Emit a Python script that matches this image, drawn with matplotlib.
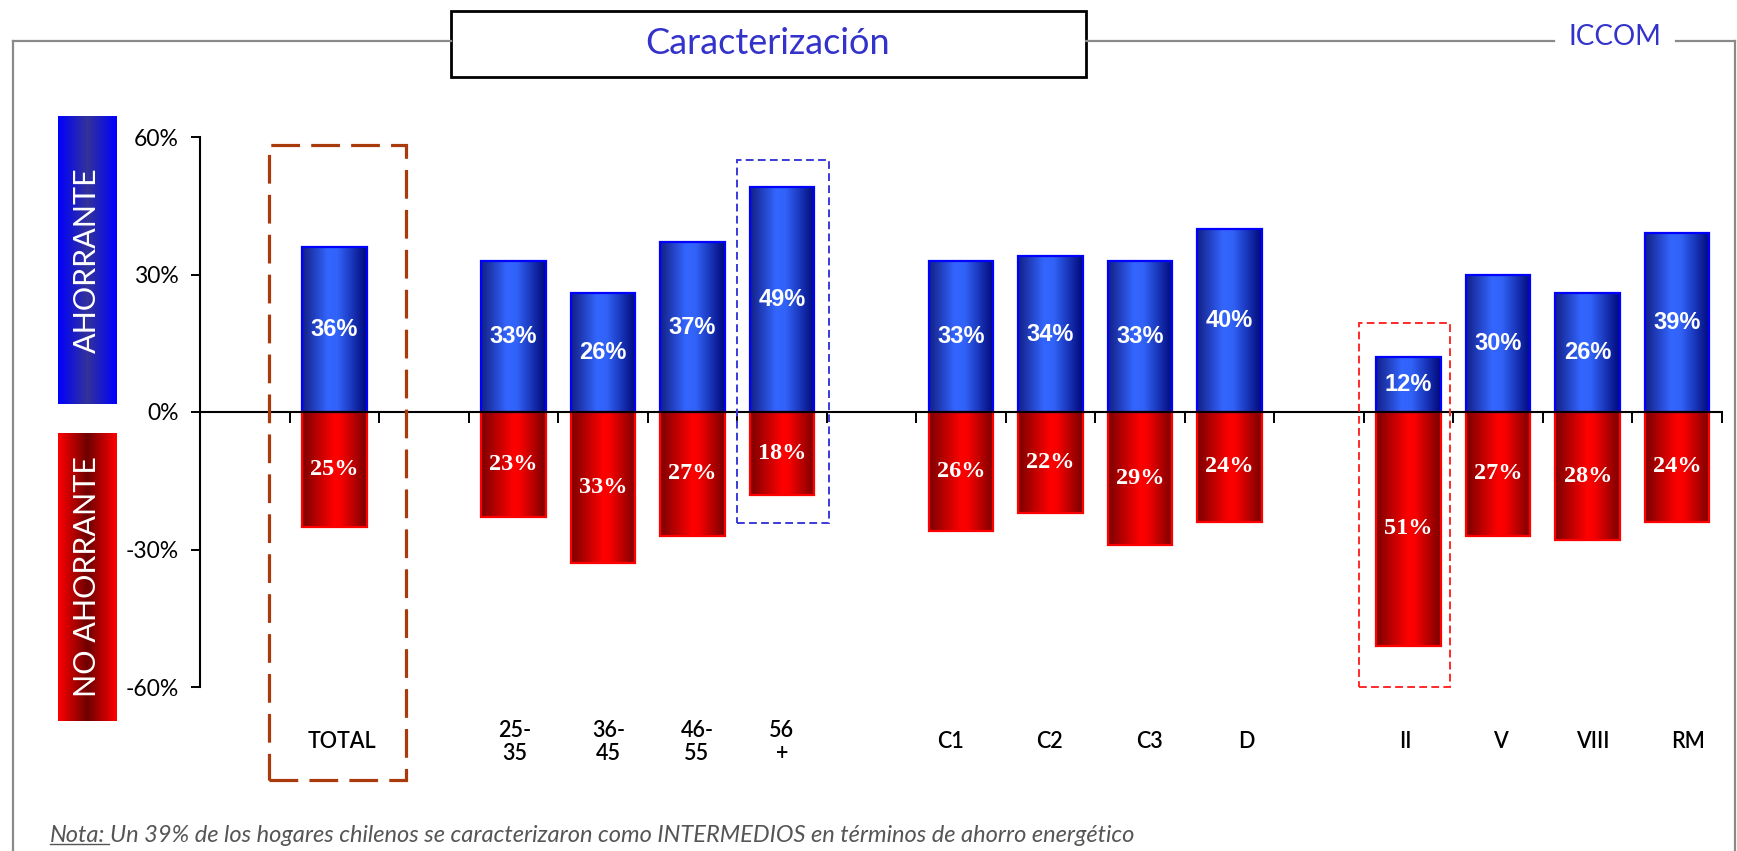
import numpy as np
import matplotlib.pyplot as plt
from matplotlib.colors import LinearSegmentedColormap
from matplotlib.patches import Rectangle
from matplotlib.lines import Line2D

# data
categories = ['TOTAL', '25-\n35', '36-\n45', '46-\n55', '56\n+',
              'C1', 'C2', 'C3', 'D', 'II', 'V', 'VIII', 'RM']
slots = [1, 3, 4, 5, 6, 8, 9, 10, 11, 13, 14, 15, 16]
ahorrante = [36, 33, 26, 37, 49, 33, 34, 33, 40, 12, 30, 26, 39]
no_ahorrante = [25, 23, 33, 27, 18, 26, 22, 29, 24, 51, 27, 28, 24]
yticks = [-60, -30, 0, 30, 60]

# category labels are not exactly under the bars in the original
label_shift = [0.09, 0.02, 0.06, 0.05, 0.0, -0.12, -0.01, 0.1, 0.19,
               -0.04, 0.03, 0.06, 0.12]

W, H = 1737, 851
plt.rcParams['font.family'] = ['Lato', 'DejaVu Sans']

fig = plt.figure(figsize=(W / 100, H / 100), dpi=100)

def fx(px):
    return px / W

def fy(py):
    return 1 - py / H

ax = fig.add_axes([fx(200), fy(687), fx(1522), 550 / H])
ax.set_xlim(0, 17)
ax.set_ylim(-60, 60)

blue_cmap = LinearSegmentedColormap.from_list(
    'b', [(0, '#121f86'), (0.4, '#3366ff'), (0.55, '#3163f8'), (1, '#00087a')])
red_cmap = LinearSegmentedColormap.from_list(
    'r', [(0, '#7c0000'), (0.5, '#ff0000'), (0.6, '#f80000'), (1, '#7a0000')])
grad = np.linspace(0, 1, 256).reshape(1, -1)

x = np.array(slots) + 0.5
bw = 0.72


def gradient_bars(vals, cmap, edge):
    bars = ax.bar(x, vals, width=bw, facecolor='none', edgecolor=edge,
                  linewidth=1.6, zorder=3)
    for b in bars:
        y0, y1 = sorted([b.get_y(), b.get_y() + b.get_height()])
        im = ax.imshow(grad, extent=[b.get_x(), b.get_x() + b.get_width(), y0, y1],
                       aspect='auto', cmap=cmap, zorder=2, interpolation='bicubic')
        im.set_clip_path(b)
    return bars


gradient_bars(ahorrante, blue_cmap, '#0000ff')
gradient_bars([-v for v in no_ahorrante], red_cmap, '#ff0000')
ax.set_xlim(0, 17)
ax.set_ylim(-60, 60)

for xi, v in zip(x, ahorrante):
    ax.text(xi, v / 2, f'{v}%', ha='center', va='center', color='white',
            fontsize=17, fontweight='bold', family='Liberation Sans', zorder=5)
for xi, v in zip(x, no_ahorrante):
    ax.text(xi, -v / 2, f'{v}%', ha='center', va='center', color='white',
            fontsize=17.5, fontweight='bold', family='Liberation Serif', zorder=5)

for xi, dx, c in zip(x, label_shift, categories):
    ax.text(xi + dx, -72, c, ha='center', va='center', fontsize=15.5, color='black',
            fontweight='semibold', linespacing=1.1, clip_on=False)

# axes styling
for s in ['top', 'right']:
    ax.spines[s].set_visible(False)
ax.spines['bottom'].set_position(('data', 0))
ax.spines['bottom'].set_zorder(4)
ax.spines['left'].set_linewidth(1.5)
ax.spines['bottom'].set_linewidth(1.5)
ax.set_axisbelow(False)
ax.set_xticks(range(1, 18))
ax.set_xticklabels([])
ax.tick_params(axis='x', direction='out', length=8, width=1.4)
ax.set_yticks(yticks)
ax.set_yticklabels([f'{t}%' for t in yticks], fontsize=16.5)
ax.tick_params(axis='y', direction='out', length=6.5, width=1.4, pad=9)

# highlight boxes
ax.add_patch(Rectangle((0.77, -80.3), 1.53, 138.6, fill=False, edgecolor='#a83a0c',
                       linewidth=2.3, linestyle=(0, (9, 3.5)), clip_on=False, zorder=6))
ax.add_patch(Rectangle((6.0, -24.2), 1.03, 79.2, fill=False, edgecolor='#3a3ad8',
                       linewidth=1.4, linestyle=(0, (4, 2.2)), clip_on=False, zorder=6))
ax.add_patch(Rectangle((12.94, -59.9), 1.02, 79.3, fill=False, edgecolor='#ff2a2a',
                       linewidth=1.4, linestyle=(0, (4, 2.2)), clip_on=False, zorder=6))

# side labels
side_blue = LinearSegmentedColormap.from_list('sb', ['#0000ff', '#333399', '#0000ff'])
side_red = LinearSegmentedColormap.from_list('sr', ['#ff0000', '#6e0000', '#ff0000'])
for top, bot, cmap, label in [(116, 404, side_blue, 'AHORRANTE'),
                              (433, 721, side_red, 'NO AHORRANTE')]:
    sax = fig.add_axes([fx(58), fy(bot), fx(58), (bot - top) / H])
    sax.imshow(grad, aspect='auto', cmap=cmap, extent=[0, 1, 0, 1])
    sax.set_axis_off()
    sax.text(0.5, 0.5, label, rotation=90, ha='center', va='center',
             color='white', fontsize=22, transform=sax.transAxes)

# frame
gray = '#8a8a8a'
for xs, ys in [([13, 451], [41, 41]), ([1086, 1554], [41, 41]), ([1676, 1735], [41, 41]),
               ([13, 13], [41, 851]), ([1735, 1735], [41, 851])]:
    fig.add_artist(Line2D([fx(v) for v in xs], [fy(v) for v in ys],
                          color=gray, linewidth=1.6, transform=fig.transFigure))
fig.add_artist(Rectangle((fx(451), fy(77)), fx(635), 66 / H, facecolor='white',
                         edgecolor='black', linewidth=2, transform=fig.transFigure))
fig.text(fx(768), fy(44), 'Caracterización', ha='center', va='center',
         fontsize=26, color='#3333cc')
fig.text(fx(1615), fy(37), 'ICCOM', ha='center', va='center', fontsize=20, color='#3333cc')

# note
nota = fig.text(fx(50), fy(835), 'Nota:', ha='left', va='center', fontsize=17,
                style='italic', color='#555555')
fig.canvas.draw()
bb = nota.get_window_extent()
fig.text(bb.x1 / W + fx(5), fy(835),
         'Un 39% de los hogares chilenos se caracterizaron como INTERMEDIOS en términos de ahorro energético',
         ha='left', va='center', fontsize=17, style='italic', color='#555555')
fig.add_artist(Line2D([bb.x0 / W, bb.x1 / W + fx(4)], [bb.y0 / H + 0.002] * 2,
                      color='#555555', linewidth=1, transform=fig.transFigure))

fig.savefig('out.png', dpi=100, facecolor='white')
